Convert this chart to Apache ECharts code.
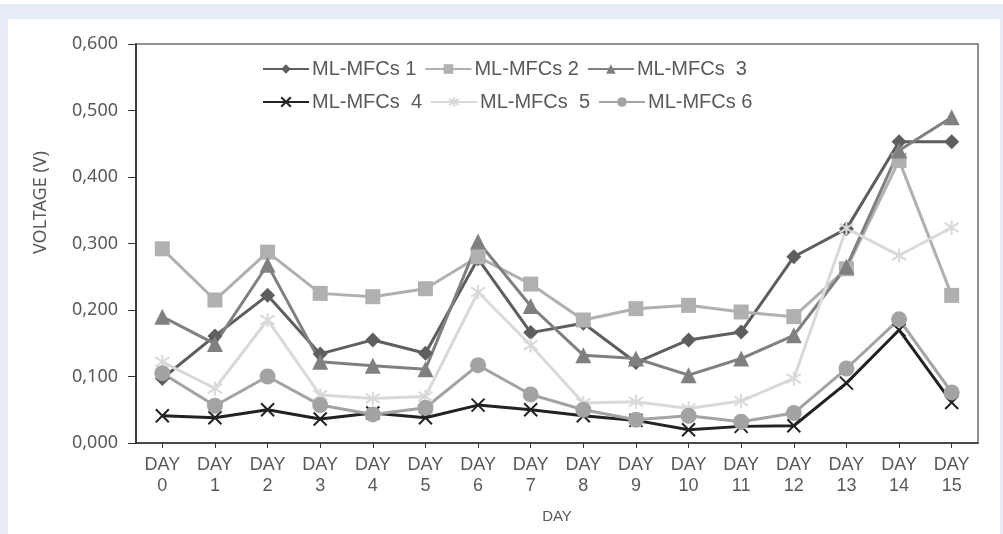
<!DOCTYPE html>
<html>
<head>
<meta charset="utf-8">
<script src="https://cdn.jsdelivr.net/npm/echarts@6/dist/echarts.min.js"></script>
<style>
  html, body { margin: 0; padding: 0; }
  body { width: 1003px; height: 534px; background: #e8ecf6; position: relative; overflow: hidden; }
  #topstrip { position: absolute; left: 0; top: 0; width: 1003px; height: 4px; background: #ffffff; }
  #chart { position: absolute; left: 8px; top: 19px; width: 992px; height: 515px; background: #ffffff; }
</style>
</head>
<body>
<div id="topstrip"></div>
<div id="chart"></div>
<script>
const days = [0, 1, 2, 3, 4, 5, 6, 7, 8, 9, 10, 11, 12, 13, 14, 15];
const categories = days.map(d => 'DAY ' + d);
const seriesNames = ['ML-MFCs 1', 'ML-MFCs 2', 'ML-MFCs  3', 'ML-MFCs  4', 'ML-MFCs  5', 'ML-MFCs 6'];
const yTicks = { min: 0, max: 0.6, interval: 0.1 };

const mfc1 = [0.097, 0.161, 0.222, 0.134, 0.155, 0.135, 0.277, 0.166, 0.180, 0.121, 0.155, 0.167, 0.280, 0.322, 0.453, 0.453];
const mfc2 = [0.292, 0.215, 0.287, 0.225, 0.220, 0.232, 0.280, 0.239, 0.185, 0.202, 0.207, 0.197, 0.190, 0.262, 0.425, 0.222];
const mfc3 = [0.190, 0.149, 0.268, 0.122, 0.116, 0.111, 0.303, 0.206, 0.132, 0.127, 0.102, 0.127, 0.162, 0.265, 0.440, 0.490];
const mfc4 = [0.041, 0.038, 0.050, 0.036, 0.045, 0.038, 0.057, 0.050, 0.041, 0.034, 0.020, 0.025, 0.026, 0.090, 0.170, 0.061];
const mfc5 = [0.122, 0.082, 0.185, 0.072, 0.067, 0.070, 0.227, 0.147, 0.060, 0.062, 0.052, 0.063, 0.097, 0.323, 0.282, 0.324];
const mfc6 = [0.105, 0.056, 0.100, 0.057, 0.043, 0.053, 0.117, 0.073, 0.050, 0.035, 0.041, 0.032, 0.045, 0.112, 0.186, 0.076];

const values = [mfc1, mfc2, mfc3, mfc4, mfc5, mfc6];
const colors = ['#5e5e5e', '#b0b0b0', '#808080', '#222222', '#d9d9d9', '#a3a3a3'];
const symbols = [
  'diamond',
  'rect',
  'triangle',
  'path://M0,0L10,10M10,0L0,10',
  'path://M0,1L10,9M10,1L0,9M5,-1L5,11',
  'circle'
];
const symbolSizes = [15, 15, 16, 13, 14, 16];
const isStroke = [false, false, false, true, true, false];

const series = values.map((v, i) => ({
  name: seriesNames[i],
  type: 'line',
  data: v,
  symbol: symbols[i],
  symbolSize: symbolSizes[i],
  showAllSymbol: true,
  animation: false,
  lineStyle: { color: colors[i], width: 3 },
  itemStyle: isStroke[i]
    ? { color: colors[i], borderColor: colors[i], borderWidth: 2 }
    : { color: colors[i], borderWidth: 0 },
  emphasis: { disabled: true }
}));

const txt = '#595959';
const legendCommon = {
  orient: 'horizontal',
  itemWidth: 46,
  itemHeight: 12,
  itemGap: 8,
  textStyle: { fontFamily: 'Liberation Sans', fontSize: 20, color: txt, padding: [0, 0, 0, -2] },
  selectedMode: false
};

const chart = echarts.init(document.getElementById('chart'), null, { renderer: 'canvas' });
chart.setOption({
  backgroundColor: '#ffffff',
  animation: false,
  color: colors,
  legend: [
    Object.assign({}, legendCommon, { left: 249, top: 35, data: seriesNames.slice(0, 3) }),
    Object.assign({}, legendCommon, { left: 249, top: 68, data: seriesNames.slice(3, 6) })
  ],
  grid: {
    left: 128, top: 25, right: 22, bottom: 91,
    show: true, borderColor: '#707070', borderWidth: 1.5, backgroundColor: 'transparent'
  },
  xAxis: {
    type: 'category',
    data: categories,
    boundaryGap: true,
    name: 'DAY',
    nameLocation: 'middle',
    nameGap: 66,
    nameTextStyle: { fontFamily: 'Liberation Sans', fontSize: 15, color: txt },
    axisLine: { show: true, lineStyle: { color: '#333333', width: 1.5 } },
    axisTick: { show: true, alignWithLabel: true, length: 5, lineStyle: { color: '#333333' } },
    axisLabel: {
      interval: 0,
      margin: 12,
      fontFamily: 'Liberation Sans',
      fontSize: 18,
      lineHeight: 21,
      color: txt,
      formatter: v => v.replace(' ', '\n')
    },
    splitLine: { show: false }
  },
  yAxis: {
    type: 'value',
    min: yTicks.min,
    max: yTicks.max,
    interval: yTicks.interval,
    name: 'VOLTAGE (V)',
    nameLocation: 'middle',
    nameGap: 86,
    nameRotate: 90,
    nameTextStyle: { fontFamily: 'Noto Sans', fontSize: 18, color: txt, padding: [0, 0, 0, 82] },
    axisLine: { show: true, lineStyle: { color: '#222222', width: 1.5 } },
    axisTick: { show: true, length: 8, lineStyle: { color: '#333333' } },
    axisLabel: {
      margin: 18,
      fontFamily: 'Noto Sans',
      fontSize: 18,
      color: txt,
      formatter: v => v.toFixed(3).replace('.', ',')
    },
    splitLine: { show: false }
  },
  series: series
});
</script>
</body>
</html>
